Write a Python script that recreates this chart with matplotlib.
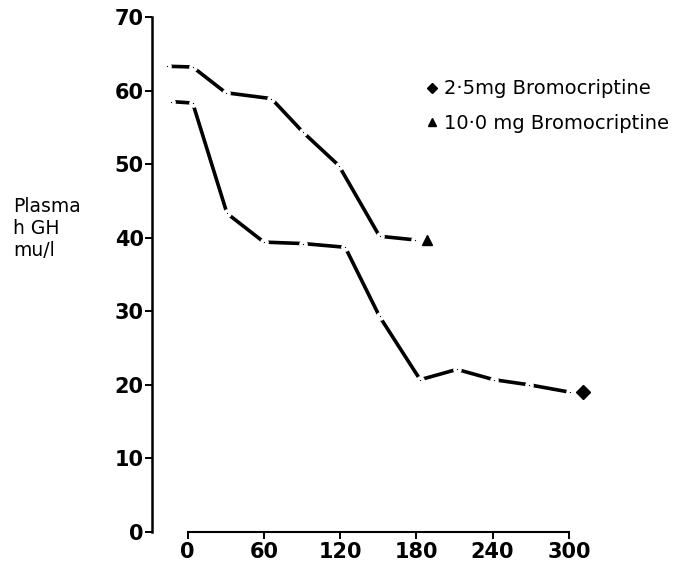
import matplotlib
matplotlib.use("Agg")
import matplotlib.pyplot as plt
from matplotlib.lines import Line2D

# plasma hGH (mu/l) against time (min) after bromocriptine
time_10mg = [-16, 4, 30, 66, 91, 119, 151, 179]
ghs_10mg = [63.3, 63.2, 59.7, 58.9, 54.3, 49.8, 40.2, 39.7]
end_10mg = (188, 39.7)

time_25mg = [-13, 4, 31, 60, 91, 124, 151, 183, 212, 241, 269, 301]
ghs_25mg = [58.5, 58.3, 43.3, 39.4, 39.2, 38.7, 29.3, 20.7, 22.1, 20.7, 20.0, 19.0]
end_25mg = (311, 19.0)

x_ticks = [0, 60, 120, 180, 240, 300]
y_ticks = [0, 10, 20, 30, 40, 50, 60, 70]
legend_labels = ["2·5mg Bromocriptine", "10·0 mg Bromocriptine"]

plt.rcParams["font.family"] = ["DejaVu Sans"]

fig = plt.figure(figsize=(6.88, 5.71), dpi=100)
ax = fig.add_axes([0.221, 0.0683, 0.70, 0.902])

for t, v in [(time_10mg, ghs_10mg), (time_25mg, ghs_25mg)]:
    ax.plot(t, v, color="black", lw=2.6, solid_capstyle="butt")
    ax.plot(t, v, ls="none", marker="o", ms=3.6, mfc="black",
            mec="white", mew=2.6)

ax.plot(*end_10mg, marker="^", color="black", ms=7)
ax.plot(*end_25mg, marker="D", color="black", ms=7)

ax.set_xlim(-28, 351)
ax.set_ylim(0, 70)
ax.set_xticks(x_ticks)
ax.set_yticks(y_ticks)

for side in ["top", "right"]:
    ax.spines[side].set_visible(False)
ax.spines["left"].set_bounds(0, 70)
ax.spines["bottom"].set_bounds(0, 300)
ax.spines["left"].set_linewidth(1.8)
ax.spines["bottom"].set_linewidth(1.5)

ax.tick_params(axis="y", direction="out", length=5, width=1.4,
               labelsize=15, pad=1)
ax.tick_params(axis="x", direction="out", length=5, width=1.4,
               labelsize=15, pad=2)
for lab in ax.get_xticklabels() + ax.get_yticklabels():
    lab.set_fontweight("bold")

fig.text(0.019, 0.600, "Plasma\nh GH\nmu/l", fontsize=13.5, ha="left",
         va="center", linespacing=1.2)

handles = [
    Line2D([], [], ls="none", marker="D", color="black", ms=5),
    Line2D([], [], ls="none", marker="^", color="black", ms=6),
]
ax.legend(handles, legend_labels, loc="upper left",
          bbox_to_anchor=(0.607, 0.878), bbox_transform=fig.transFigure,
          frameon=False, fontsize=14, handlelength=0.5, handletextpad=0.35,
          labelspacing=0.8, borderpad=0)

fig.savefig("out.png", dpi=100)
